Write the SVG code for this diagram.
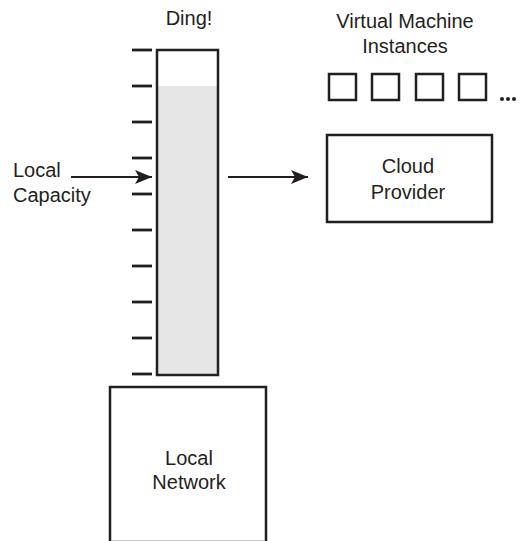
<svg xmlns="http://www.w3.org/2000/svg" width="522" height="541" viewBox="0 0 522 541">
<defs>
<style>
text{font-family:"Liberation Sans",Arial,sans-serif;font-size:20px;fill:#231f20}
.box{fill:#fff;stroke:#231f20;stroke-width:2.5}
.tick{stroke:#231f20;stroke-width:2.8}
.ln{stroke:#231f20;stroke-width:2;fill:none}
</style>
<marker id="ah" viewBox="0 0 17 14" refX="17" refY="7" markerWidth="17" markerHeight="14" markerUnits="userSpaceOnUse" orient="auto">
<path d="M0,0 L17,7 L0,14 L4,7 Z" fill="#231f20"/>
</marker>
</defs>
<rect width="522" height="541" fill="#fff"/>
<g id="capacity-column">
<rect x="157" y="50" width="61" height="325" fill="#fff" stroke="none"/>
<rect x="157" y="86" width="61" height="289" fill="#e6e6e6"/>
<rect x="157" y="50" width="61" height="325" fill="none" stroke="#231f20" stroke-width="2.5"/>
<text x="189" y="25" text-anchor="middle">Ding!</text>
<g class="tick">
<line x1="132" y1="50" x2="152" y2="50"/>
<line x1="132" y1="86" x2="152" y2="86"/>
<line x1="132" y1="122" x2="152" y2="122"/>
<line x1="132" y1="158" x2="152" y2="158"/>
<line x1="132" y1="194" x2="152" y2="194"/>
<line x1="132" y1="230" x2="152" y2="230"/>
<line x1="132" y1="266" x2="152" y2="266"/>
<line x1="132" y1="302" x2="152" y2="302"/>
<line x1="132" y1="338" x2="152" y2="338"/>
<line x1="132" y1="374" x2="152" y2="374"/>
</g>
</g>
<g id="local-capacity">
<text x="13" y="177">Local</text>
<text x="13" y="202">Capacity</text>
</g>
<g id="vm-instances">
<text x="405" y="28" text-anchor="middle">Virtual Machine</text>
<text x="405" y="53" text-anchor="middle">Instances</text>
<rect class="box" x="329" y="74" width="27" height="26"/>
<rect class="box" x="372" y="74" width="27" height="26"/>
<rect class="box" x="416" y="74" width="27" height="26"/>
<rect class="box" x="459" y="74" width="27" height="26"/>
<circle cx="502" cy="99" r="2" fill="#231f20"/>
<circle cx="508" cy="99" r="2" fill="#231f20"/>
<circle cx="514" cy="99" r="2" fill="#231f20"/>
</g>
<g id="cloud-provider">
<rect class="box" x="327" y="135" width="165" height="87"/>
<text x="408" y="173" text-anchor="middle">Cloud</text>
<text x="408" y="199" text-anchor="middle">Provider</text>
</g>
<g id="local-network">
<rect class="box" x="110" y="387" width="156" height="155"/>
<text x="189" y="465" text-anchor="middle">Local</text>
<text x="189" y="489" text-anchor="middle">Network</text>
</g>
<g id="connectors">
<line class="ln" x1="71" y1="177" x2="152" y2="177" marker-end="url(#ah)"/>
<line class="ln" x1="228" y1="177" x2="308" y2="177" marker-end="url(#ah)"/>
</g>
</svg>
